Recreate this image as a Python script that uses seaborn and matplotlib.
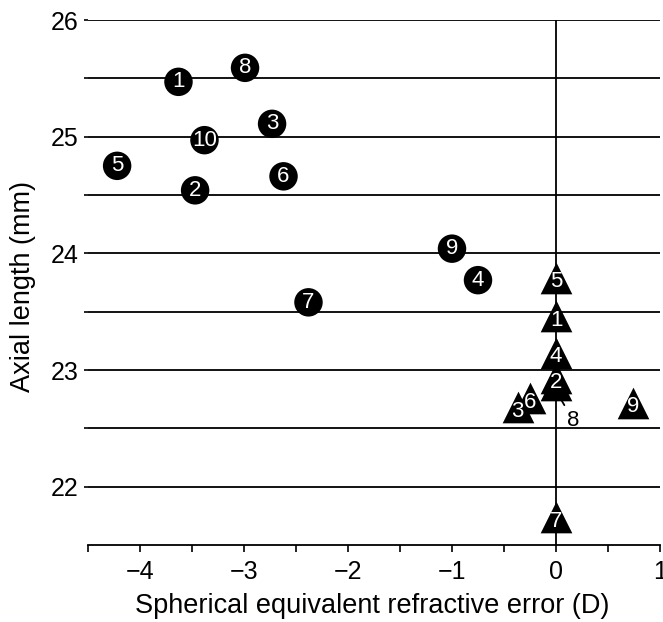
import matplotlib
matplotlib.use("Agg")
import matplotlib.pyplot as plt
import seaborn as sns
import numpy as np
import pandas as pd

# Myopes (circles)
myope_id = [1, 2, 3, 4, 5, 6, 7, 8, 9, 10]
myope_ser = [-3.63, -3.47, -2.73, -0.75, -4.22, -2.62, -2.38, -2.99, -1.00, -3.38]
myope_al = [25.47, 24.54, 25.11, 23.77, 24.75, 24.66, 23.58, 25.59, 24.04, 24.97]

# Emmetropes (triangles)
emm_id = [1, 2, 3, 4, 5, 6, 7, 8, 9]
emm_ser = [0.00, 0.00, -0.37, 0.00, 0.00, -0.25, 0.00, 0.00, 0.74]
emm_al = [23.46, 22.93, 22.68, 23.15, 23.79, 22.76, 21.74, 22.87, 22.72]

x_ticks = [-4.5, -4, -3.5, -3, -2.5, -2, -1.5, -1, -0.5, 0, 0.5, 1]
x_labels = ["", "\u22124", "", "\u22123", "", "\u22122", "", "\u22121", "", "0", "", "1"]
y_ticks = [22, 22.5, 23, 23.5, 24, 24.5, 25, 25.5, 26]
y_labels = ["22", "", "23", "", "24", "", "25", "", "26"]

sns.set_style("white")
plt.rcParams['font.family'] = ['Liberation Sans', 'DejaVu Sans']
plt.rcParams['text.color'] = 'black'
plt.rcParams['axes.labelcolor'] = 'black'
plt.rcParams['xtick.color'] = 'black'
plt.rcParams['ytick.color'] = 'black'

fig = plt.figure(figsize=(6.63, 6.22), dpi=100)
ax = fig.add_axes([88/663, 1 - 545/622, 572/663, 525/622])

myo = pd.DataFrame({"id": myope_id, "ser": myope_ser, "al": myope_al})
emm = pd.DataFrame({"id": emm_id, "ser": emm_ser, "al": emm_al})
# draw 8 before 2 so that 2 lies on top
emm_order = emm.iloc[[0, 2, 3, 4, 5, 6, 7, 1, 8]]

ax.axvline(0, color="black", lw=1.3, zorder=1)

sns.scatterplot(data=myo, x="ser", y="al", marker="o", s=420, color="black",
                edgecolor="none", ax=ax, zorder=3, legend=False)
sns.scatterplot(data=emm_order, x="ser", y="al", marker="^", s=520, color="black",
                edgecolor="white", linewidth=0.0, ax=ax, zorder=3, legend=False)

for i, xv, yv in zip(myope_id, myope_ser, myope_al):
    ax.text(xv, yv, str(i), color="white", ha="center", va="center",
            fontsize=16, zorder=5)

for i, xv, yv in zip(emm_id, emm_ser, emm_al):
    if i == 8:
        ax.annotate("8", xy=(xv + 0.04, yv - 0.11), xytext=(xv + 0.165, yv - 0.30),
                    ha="center", va="center", fontsize=16, color="black",
                    arrowprops=dict(arrowstyle="-", color="black", lw=1.3,
                                    shrinkA=1, shrinkB=0), zorder=5)
    else:
        ax.text(xv, yv - 0.035, str(i), color="white", ha="center", va="center",
                fontsize=16, zorder=5)

ax.set_xlim(-4.5, 1.0)
ax.set_ylim(21.5, 26.0)
ax.set_xticks(x_ticks)
ax.set_xticklabels(x_labels)
ax.set_yticks(y_ticks)
ax.set_yticklabels(y_labels)
ax.yaxis.grid(True, color="black", lw=1.3)
ax.xaxis.grid(False)
ax.set_axisbelow(True)

for s in ["left", "top", "right"]:
    ax.spines[s].set_visible(False)
ax.spines["bottom"].set_color("black")
ax.spines["bottom"].set_linewidth(1.3)

ax.tick_params(axis="x", direction="out", length=5, width=1.2, colors="black",
               labelsize=18, pad=6, bottom=True)
ax.tick_params(axis="y", direction="out", length=3, width=1.2, colors="black",
               labelsize=18, pad=4, left=True)

ax.set_xlabel("Spherical equivalent refractive error (D)", fontsize=19.5,
              va="center", color="black")
ax.xaxis.set_label_coords(0.4965, -0.116)
ax.set_ylabel("Axial length (mm)", fontsize=19.5, va="center", color="black")
ax.yaxis.set_label_coords(-0.1136, 0.492)

fig.savefig("out.png", dpi=100)
